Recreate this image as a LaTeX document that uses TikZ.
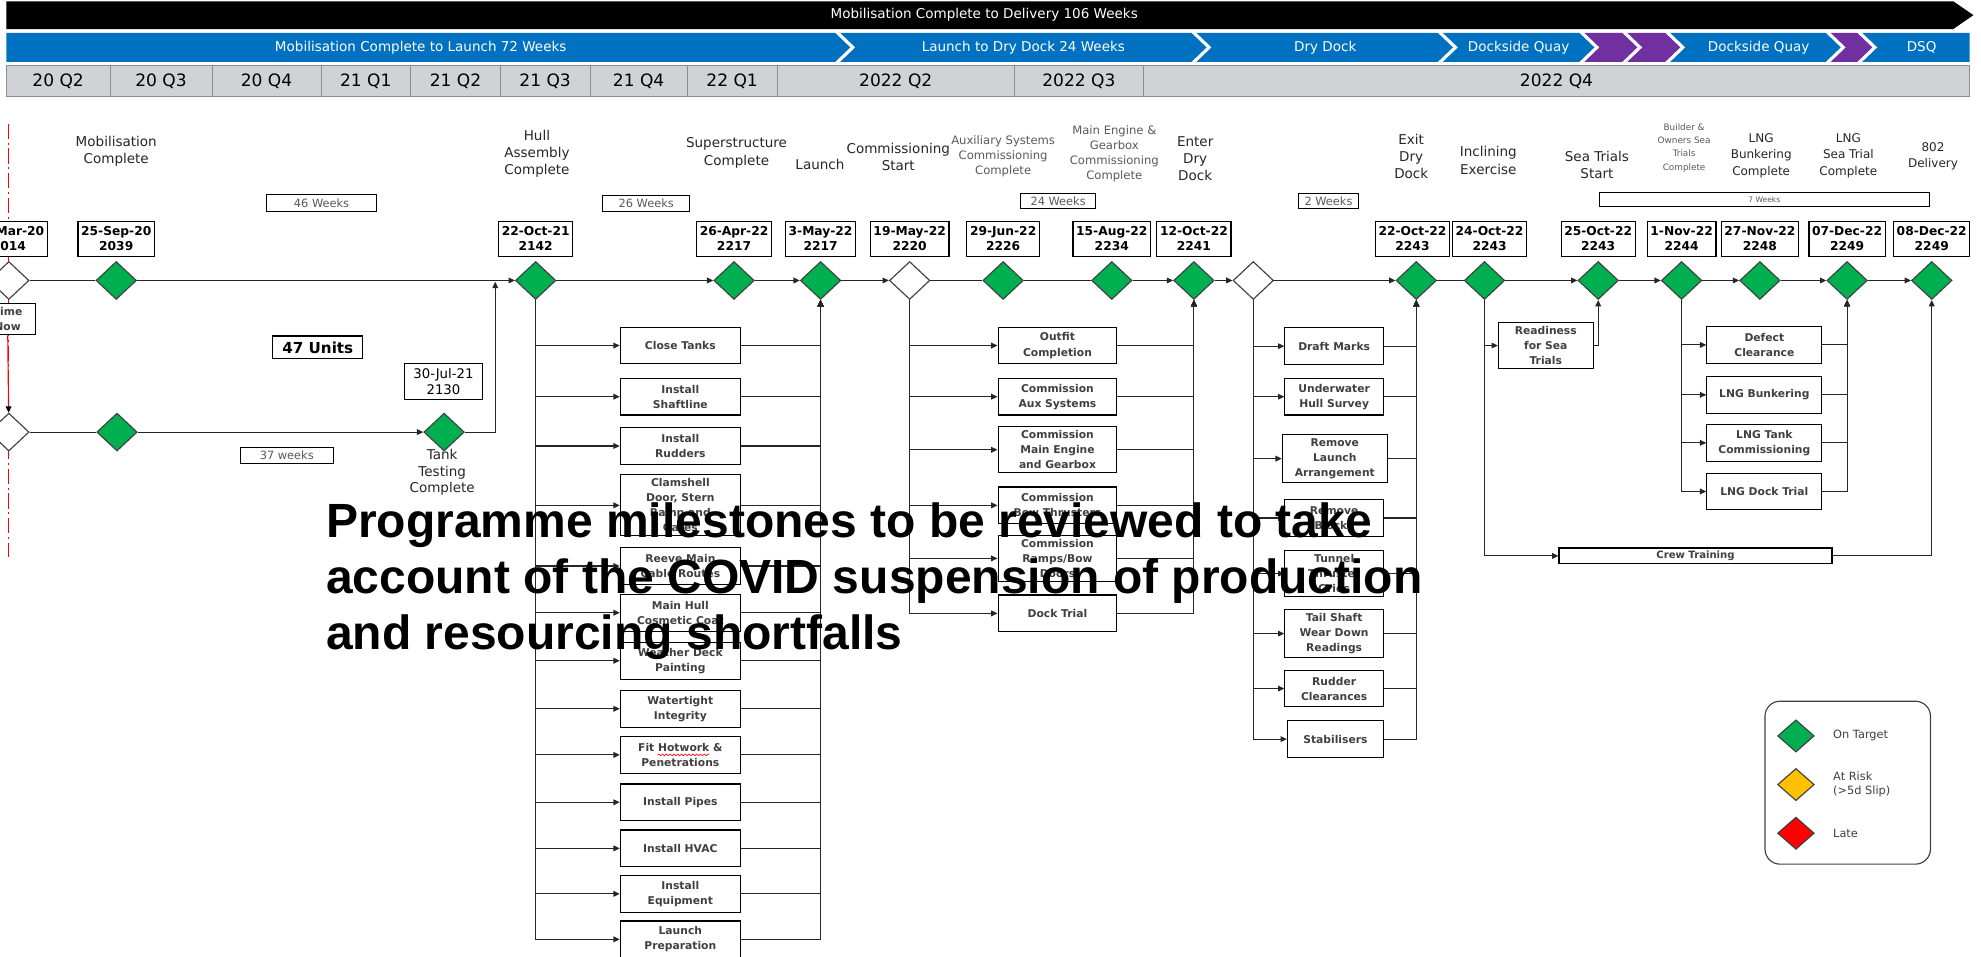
\documentclass[tikz,border=0pt]{standalone}
\usepackage{fontspec}
\setmainfont{DejaVu Sans}
\newfontfamily\notefont{Liberation Sans}
\usepackage{xcolor}
\usepackage{tikz}
\usetikzlibrary{arrows.meta, positioning, shapes.geometric, decorations.pathmorphing}

\definecolor{ontarget}{RGB}{0,176,80}
\definecolor{atrisk}{RGB}{255,192,0}
\definecolor{late}{RGB}{255,0,0}
\definecolor{barblue}{RGB}{0,112,192}
\definecolor{barpurple}{RGB}{112,48,160}
\definecolor{qgray}{RGB}{208,210,213}
\definecolor{qline}{RGB}{140,140,140}
\definecolor{inkgray}{RGB}{64,64,64}

\begin{document}
\begin{tikzpicture}[x=1pt, y=-1pt,
    link/.style={draw=black!85, line width=0.9pt},
    flow/.style={link, -{Triangle[length=5pt, width=4.5pt]}},
    mile/.style={diamond, draw=inkgray, line width=0.9pt, fill=ontarget, minimum width=32pt, minimum height=30pt, inner sep=0pt},
    openmile/.style={mile, fill=white},
    datebox/.style={draw, line width=0.9pt, fill=white, align=center, inner xsep=2.5pt, inner ysep=1pt, minimum height=28pt, font=\fontsize{9.7}{11.9}\selectfont\bfseries},
    title/.style={align=center, text=black!85, font=\fontsize{10.7}{13.5}\selectfont},
    subtitle/.style={align=center, text=black!65, font=\fontsize{9.2}{11.9}\selectfont},
    smalltitle/.style={align=center, text=black!85, font=\fontsize{9.5}{13}\selectfont},
    tinytitle/.style={align=center, text=black!65, font=\fontsize{7}{10.5}\selectfont},
    task/.style={draw, line width=0.9pt, fill=white, align=center, text=inkgray, inner xsep=2pt, inner ysep=3pt, minimum height=29pt, font=\fontsize{8.5}{11.9}\selectfont\bfseries},
    hulltask/.style={task, minimum width=95pt},
    commtask/.style={task, minimum width=94pt},
    docktask/.style={task, minimum width=78pt},
    lngtask/.style={task, minimum width=91pt},
    span/.style={draw, line width=0.6pt, fill=white, text=black!65, inner sep=0pt, minimum height=13pt, font=\fontsize{9}{10}\selectfont},
    quarter/.style={draw=qline, fill=qgray, line width=0.6pt, minimum height=25pt, inner sep=0pt, font=\fontsize{13.5}{14}\selectfont},
    bartext/.style={text=white, font=\fontsize{10.7}{12}\selectfont},
    legendtext/.style={align=left, text=inkgray, font=\fontsize{9}{11}\selectfont},
    timeline/.style={draw=red, line width=0.9pt, dash pattern=on 12pt off 3pt on 1.5pt off 3pt},
    squiggle/.style={draw=red, line width=0.5pt, decorate, decoration={snake, amplitude=0.7pt, segment length=3pt}}
]
    \useasboundingbox (0,0) rectangle (1568,757);
    \clip (0,0) rectangle (1568,757);

    \fill (5,1) -- (1546,1) -- (1562,12) -- (1546,23) -- (5,23) -- cycle;
    \node (hdrall) [bartext] at (779,12) {Mobilisation Complete to Delivery 106 Weeks};

    \fill[barblue] (5,26) -- (661,26) -- (673,37.5) -- (661,49) -- (5,49) -- cycle;
    \fill[barblue] (665,26) -- (943,26) -- (955,37.5) -- (943,49) -- (665,49) -- (677,37.5) -- cycle;
    \fill[barblue] (947,26) -- (1138,26) -- (1150,37.5) -- (1138,49) -- (947,49) -- (959,37.5) -- cycle;
    \fill[barblue] (1142,26) -- (1250,26) -- (1262,37.5) -- (1250,49) -- (1142,49) -- (1154,37.5) -- cycle;
    \fill[barpurple] (1254,26) -- (1284,26) -- (1296,37.5) -- (1284,49) -- (1254,49) -- (1266,37.5) -- cycle;
    \fill[barpurple] (1288,26) -- (1318,26) -- (1330,37.5) -- (1318,49) -- (1288,49) -- (1300,37.5) -- cycle;
    \fill[barblue] (1322,26) -- (1445,26) -- (1457,37.5) -- (1445,49) -- (1322,49) -- (1334,37.5) -- cycle;
    \fill[barpurple] (1449,26) -- (1470,26) -- (1482,37.5) -- (1470,49) -- (1449,49) -- (1461,37.5) -- cycle;
    \fill[barblue] (1474,26) -- (1559,26) -- (1559,49) -- (1474,49) -- (1486,37.5) -- cycle;
    \node (hdr1) [bartext] at (333,37.5) {Mobilisation Complete to Launch 72 Weeks};
    \node (hdr2) [bartext] at (810,37.5) {Launch to Dry Dock 24 Weeks};
    \node (hdr3) [bartext] at (1049,37.5) {Dry Dock};
    \node (hdr4) [bartext] at (1202,37.5) {Dockside Quay};
    \node (hdr5) [bartext] at (1392,37.5) {Dockside Quay};
    \node (hdr6) [bartext] at (1521,37.5) {DSQ};

    \node (q1) [quarter, minimum width=82pt] at (46,64) {20 Q2};
    \node (q2) [quarter, minimum width=81pt] at (127.5,64) {20 Q3};
    \node (q3) [quarter, minimum width=86pt] at (211,64) {20 Q4};
    \node (q4) [quarter, minimum width=71pt] at (289.5,64) {21 Q1};
    \node (q5) [quarter, minimum width=71pt] at (360.5,64) {21 Q2};
    \node (q6) [quarter, minimum width=71pt] at (431.5,64) {21 Q3};
    \node (q7) [quarter, minimum width=77pt] at (505.5,64) {21 Q4};
    \node (q8) [quarter, minimum width=71pt] at (579.5,64) {22 Q1};
    \node (q9) [quarter, minimum width=188pt] at (709,64) {2022 Q2};
    \node (q10) [quarter, minimum width=102pt] at (854,64) {2022 Q3};
    \node (q11) [quarter, minimum width=654pt] at (1232,64) {2022 Q4};

    \coordinate (ttop) at (7,98);
    \coordinate (tbot) at (7,441);
    \draw[timeline] (ttop) -- (tbot);

    \node (t1) [title] at (92,119.5) {Mobilisation\\Complete};
    \node (t2) [title] at (425,121.5) {Hull\\Assembly\\Complete};
    \node (t3) [title] at (583,121) {Superstructure\\Complete};
    \node (t4) [title] at (649,130) {Launch};
    \node (t5) [title] at (711,124.5) {Commissioning\\Start};
    \node (t6) [subtitle] at (794,124) {Auxiliary Systems\\Commissioning\\Complete};
    \node (t7) [subtitle] at (882,122) {Main Engine \&\\Gearbox\\Commissioning\\Complete};
    \node (t8) [title] at (946,125.5) {Enter\\Dry\\Dock};
    \node (t9) [title] at (1117,124) {Exit\\Dry\\Dock};
    \node (t10) [title] at (1178,127) {Inclining\\Exercise};
    \node (t11) [title] at (1264,130.5) {Sea Trials\\Start};
    \node (t12) [tinytitle] at (1333,117) {Builder \&\\Owners Sea\\Trials\\Complete};
    \node (t13) [smalltitle] at (1394,123) {LNG\\Bunkering\\Complete};
    \node (t14) [smalltitle] at (1463,123) {LNG\\Sea Trial\\Complete};
    \node (t15) [smalltitle] at (1530,123.5) {802\\Delivery};

    \node (w46) [span, minimum width=87pt] at (254.5,160.5) {46 Weeks};
    \node (w26) [span, minimum width=69pt] at (511.5,161) {26 Weeks};
    \node (w24) [span, minimum width=59pt, minimum height=12.5pt] at (837.5,159) {24 Weeks};
    \node (w2) [span, minimum width=47pt, minimum height=12.5pt] at (1051.5,159) {2 Weeks};
    \node (w7) [span, minimum width=261pt, minimum height=10.5pt, font=\fontsize{6}{7}\selectfont] at (1396.5,157.8) {7 Weeks};
    \node (w37) [span, minimum width=74pt] at (227,360.5) {37 weeks};

    \node (m0) [openmile] at (7,222) {};
    \node (m1) [mile] at (92,222) {};
    \node (m2) [mile] at (424,222) {};
    \node (m3) [mile] at (581,222) {};
    \node (m4) [mile] at (649.5,222) {};
    \node (m5) [openmile] at (720,222) {};
    \node (m6) [mile] at (794,222) {};
    \node (m7) [mile] at (880,222) {};
    \node (m8) [mile] at (945,222) {};
    \node (m9) [openmile] at (992,222) {};
    \node (m10) [mile] at (1121,222) {};
    \node (m11) [mile] at (1175,222) {};
    \node (m12) [mile] at (1265,222) {};
    \node (m13) [mile] at (1331,222) {};
    \node (m14) [mile] at (1393,222) {};
    \node (m15) [mile] at (1462,222) {};
    \node (m16) [mile] at (1529,222) {};

    \node (d0) [datebox, above=3pt of m0] {31-Mar-20\\2014};
    \node (d1) [datebox, above=3pt of m1] {25-Sep-20\\2039};
    \node (d2) [datebox, above=3pt of m2] {22-Oct-21\\2142};
    \node (d3) [datebox, above=3pt of m3] {26-Apr-22\\2217};
    \node (d4) [datebox, above=3pt of m4] {3-May-22\\2217};
    \node (d5) [datebox, above=3pt of m5] {19-May-22\\2220};
    \node (d6) [datebox, above=3pt of m6] {29-Jun-22\\2226};
    \node (d7) [datebox, above=3pt of m7] {15-Aug-22\\2234};
    \node (d8) [datebox, above=3pt of m8] {12-Oct-22\\2241};
    \node (d10) [datebox, above=3pt of m10, xshift=-3pt] {22-Oct-22\\2243};
    \node (d11) [datebox, above=3pt of m11, xshift=4pt] {24-Oct-22\\2243};
    \node (d12) [datebox, above=3pt of m12] {25-Oct-22\\2243};
    \node (d13) [datebox, above=3pt of m13] {1-Nov-22\\2244};
    \node (d14) [datebox, above=3pt of m14] {27-Nov-22\\2248};
    \node (d15) [datebox, above=3pt of m15] {07-Dec-22\\2249};
    \node (d16) [datebox, above=3pt of m16] {08-Dec-22\\2249};

    \node (timenow) [task, minimum width=44pt, minimum height=25pt] at (6,252.5) {Time\\Now};
    \node (lm0) [openmile] at (7,342) {};
    \node (lm1) [mile] at (92.6,342) {};
    \node (lm2) [mile] at (351.5,342) {};
    \coordinate (hullin) at (392,223);
    \node (units) [draw, line width=0.9pt, minimum width=71pt, minimum height=18pt, inner sep=0pt, font=\fontsize{12}{13}\selectfont\bfseries] at (251.5,275) {47 Units};
    \node (tankdate) [draw, line width=0.9pt, align=center, minimum width=61.6pt, minimum height=28pt, inner sep=1pt, font=\fontsize{10.5}{12.5}\selectfont] at (351,302) {30-Jul-21\\2130};
    \node (tanktitle) [title, font=\fontsize{10.7}{13.2}\selectfont] at (350,374) {Tank\\Testing\\Complete};

    \node (h1) [hulltask] at (538.5,273.5) {Close Tanks};
    \node (h2) [hulltask] at (538.5,314) {Install\\Shaftline};
    \node (h3) [hulltask] at (538.5,353) {Install\\Rudders};
    \node (h4) [hulltask] at (538.5,400) {Clamshell\\Door, Stern\\Ramp and\\Gates};
    \node (h5) [hulltask] at (538.5,448) {Reeve Main\\Cable Routes};
    \node (h6) [hulltask] at (538.5,485) {Main Hull\\Cosmetic Coat};
    \node (h7) [hulltask] at (538.5,523) {Weather Deck\\Painting};
    \node (h8) [hulltask] at (538.5,561) {Watertight\\Integrity};
    \node (h9) [hulltask] at (538.5,597.5) {Fit Hotwork \&\\Penetrations};
    \node (h10) [hulltask] at (538.5,635) {Install Pipes};
    \node (h11) [hulltask] at (538.5,671.5) {Install HVAC};
    \node (h12) [hulltask] at (538.5,707.5) {Install\\Equipment};
    \node (h13) [hulltask] at (538.5,743.5) {Launch\\Preparation};
    \draw[squiggle] ([xshift=-18pt]h9.center) -- ([xshift=23pt]h9.center);

    \node (c1) [commtask] at (837,273.5) {Outfit\\Completion};
    \node (c2) [commtask] at (837,314) {Commission\\Aux Systems};
    \node (c3) [commtask] at (837,356) {Commission\\Main Engine\\and Gearbox};
    \node (c4) [commtask] at (837,400) {Commission\\Bow Thrusters};
    \node (c5) [commtask] at (837,442) {Commission\\Ramps/Bow\\Doors};
    \node (c6) [commtask] at (837,485.5) {Dock Trial};

    \node (dd1) [docktask] at (1056,274) {Draft Marks};
    \node (dd2) [docktask] at (1056,314) {Underwater\\Hull Survey};
    \node (dd3) [docktask, minimum width=83pt] at (1056.5,363) {Remove\\Launch\\Arrangement};
    \node (dd4) [docktask] at (1056,410) {Remove\\Blocks};
    \node (dd5) [docktask] at (1056,454) {Tunnel\\Thruster\\Grids};
    \node (dd6) [docktask] at (1056,501.5) {Tail Shaft\\Wear Down\\Readings};
    \node (dd7) [docktask] at (1056,545) {Rudder\\Clearances};
    \node (dd8) [docktask, minimum width=76pt] at (1057,585) {Stabilisers};

    \node (ready) [task, minimum width=75pt] at (1223.5,273.5) {Readiness\\for Sea\\Trials};
    \node (crew) [task, minimum width=216pt, minimum height=12.5pt, inner ysep=0pt, font=\fontsize{8}{9}\selectfont\bfseries] at (1342,440) {Crew Training};

    \node (l1) [lngtask] at (1396.5,273) {Defect\\Clearance};
    \node (l2) [lngtask] at (1396.5,312.5) {LNG Bunkering};
    \node (l3) [lngtask] at (1396.5,350.5) {LNG Tank\\Commissioning};
    \node (l4) [lngtask] at (1396.5,389) {LNG Dock Trial};

    \draw[link] (m0) -- (m1);
    \draw[flow] (m1) -- (m2);
    \draw[flow] (m2) -- (m3);
    \draw[flow] (m3) -- (m4);
    \draw[flow] (m4) -- (m5);
    \draw[link] (m5) -- (m6);
    \draw[link] (m6) -- (m7);
    \draw[flow] (m7) -- (m8);
    \draw[flow] (m8) -- (m9);
    \draw[flow] (m9) -- (m10);
    \draw[link] (m10) -- (m11);
    \draw[flow] (m11) -- (m12);
    \draw[flow] (m12) -- (m13);
    \draw[flow] (m13) -- (m14);
    \draw[flow] (m14) -- (m15);
    \draw[flow] (m15) -- (m16);

    \draw[draw=red, line width=0.9pt, -{Triangle[length=5pt, width=4.5pt, color=black]}] (timenow) -- (lm0);
    \draw[link] (lm0) -- (lm1);
    \draw[flow] (lm1) -- (lm2);
    \draw[flow] (lm2.east) -| (hullin);

    \draw[flow] (m2.south) |- (h1.west);
    \draw[flow] (m2.south) |- (h2.west);
    \draw[flow] (m2.south) |- (h3.west);
    \draw[flow] (m2.south) |- (h4.west);
    \draw[flow] (m2.south) |- (h5.west);
    \draw[flow] (m2.south) |- (h6.west);
    \draw[flow] (m2.south) |- (h7.west);
    \draw[flow] (m2.south) |- (h8.west);
    \draw[flow] (m2.south) |- (h9.west);
    \draw[flow] (m2.south) |- (h10.west);
    \draw[flow] (m2.south) |- (h11.west);
    \draw[flow] (m2.south) |- (h12.west);
    \draw[flow] (m2.south) |- (h13.west);
    \draw[flow] (h1.east) -| (m4.south);
    \draw[flow] (h2.east) -| (m4.south);
    \draw[flow] (h3.east) -| (m4.south);
    \draw[flow] (h4.east) -| (m4.south);
    \draw[flow] (h5.east) -| (m4.south);
    \draw[flow] (h6.east) -| (m4.south);
    \draw[flow] (h7.east) -| (m4.south);
    \draw[flow] (h8.east) -| (m4.south);
    \draw[flow] (h9.east) -| (m4.south);
    \draw[flow] (h10.east) -| (m4.south);
    \draw[flow] (h11.east) -| (m4.south);
    \draw[flow] (h12.east) -| (m4.south);
    \draw[flow] (h13.east) -| (m4.south);

    \draw[flow] (m5.south) |- (c1.west);
    \draw[flow] (m5.south) |- (c2.west);
    \draw[flow] (m5.south) |- (c3.west);
    \draw[flow] (m5.south) |- (c4.west);
    \draw[flow] (m5.south) |- (c5.west);
    \draw[flow] (m5.south) |- (c6.west);
    \draw[flow] (c1.east) -| (m8.south);
    \draw[flow] (c2.east) -| (m8.south);
    \draw[flow] (c3.east) -| (m8.south);
    \draw[flow] (c4.east) -| (m8.south);
    \draw[flow] (c5.east) -| (m8.south);
    \draw[flow] (c6.east) -| (m8.south);

    \draw[flow] (m9.south) |- (dd1.west);
    \draw[flow] (m9.south) |- (dd2.west);
    \draw[flow] (m9.south) |- (dd3.west);
    \draw[flow] (m9.south) |- (dd4.west);
    \draw[flow] (m9.south) |- (dd5.west);
    \draw[flow] (m9.south) |- (dd6.west);
    \draw[flow] (m9.south) |- (dd7.west);
    \draw[flow] (m9.south) |- (dd8.west);
    \draw[flow] (dd1.east) -| (m10.south);
    \draw[flow] (dd2.east) -| (m10.south);
    \draw[flow] (dd3.east) -| (m10.south);
    \draw[flow] (dd4.east) -| (m10.south);
    \draw[flow] (dd5.east) -| (m10.south);
    \draw[flow] (dd6.east) -| (m10.south);
    \draw[flow] (dd7.east) -| (m10.south);
    \draw[flow] (dd8.east) -| (m10.south);

    \draw[flow] (m11.south) |- (ready.west);
    \draw[flow] (m11.south) |- (crew.west);
    \draw[flow] (ready.east) -| (m12.south);
    \draw[flow] (crew.east) -| (m16.south);

    \draw[flow] (m13.south) |- (l1.west);
    \draw[flow] (m13.south) |- (l2.west);
    \draw[flow] (m13.south) |- (l3.west);
    \draw[flow] (m13.south) |- (l4.west);
    \draw[flow] (l1.east) -| (m15.south);
    \draw[flow] (l2.east) -| (m15.south);
    \draw[flow] (l3.east) -| (m15.south);
    \draw[flow] (l4.east) -| (m15.south);

    \node (legend) [draw=inkgray, line width=0.9pt, rounded corners=12pt, minimum width=131pt, minimum height=129pt] at (1462.5,619.5) {};
    \node (lg1) [mile, minimum width=29pt, minimum height=25.5pt] at (1421.5,582.5) {};
    \node (lg2) [mile, fill=atrisk, minimum width=29pt, minimum height=25.5pt] at (1421.5,621) {};
    \node (lg3) [mile, fill=late, minimum width=29pt, minimum height=25.5pt] at (1421.5,659.5) {};
    \node (lgl1) [legendtext, right=11pt of lg1] {On Target};
    \node (lgl2) [legendtext, right=11pt of lg2] {At Risk\\(>5d Slip)};
    \node (lgl3) [legendtext, right=11pt of lg3] {Late};

    \node (note) [anchor=north west, align=left, inner sep=0pt, font=\notefont\bfseries\fontsize{38}{44}\selectfont] at (258,398) {Programme milestones to be reviewed to take\\account of the COVID suspension of production\\and resourcing shortfalls};
\end{tikzpicture}
\end{document}
